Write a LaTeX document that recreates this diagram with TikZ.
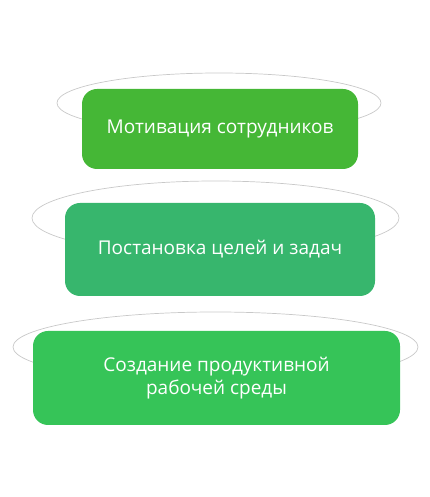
\documentclass[tikz,border=0pt]{standalone}
\usepackage{fontspec}
\setmainfont{Open Sans}
\definecolor{stepA}{HTML}{45B736}
\definecolor{stepB}{HTML}{37B66D}
\definecolor{stepC}{HTML}{36C458}
\definecolor{ringgray}{HTML}{C8C8C8}
\begin{document}
\begin{tikzpicture}[x=1pt,y=1pt]
  \tikzset{
    stepbox/.style={rounded corners=15pt,inner sep=0pt,text=white,align=center,
      font=\fontsize{19}{22.5}\selectfont},
    ring/.style={draw=ringgray,line width=0.7pt},
  }
  \useasboundingbox (0,0) rectangle (430,497);
  \draw[ring] (219,394) ellipse [x radius=162,y radius=30];
  \draw[ring] (215.5,279) ellipse [x radius=183.5,y radius=37];
  \draw[ring] (215.5,150) ellipse [x radius=202.5,y radius=35];
  \node[stepbox,fill=stepA,minimum width=276,minimum height=80] (motiv) at (220,368) {Мотивация сотрудников};
  \node[stepbox,fill=stepB,minimum width=310,minimum height=93] (goals) at (220,247.5) {Постановка целей и задач};
  \node[stepbox,fill=stepC,minimum width=367,minimum height=94] (env) at (216.5,119) {Создание продуктивной\\рабочей среды};
\end{tikzpicture}
\end{document}
